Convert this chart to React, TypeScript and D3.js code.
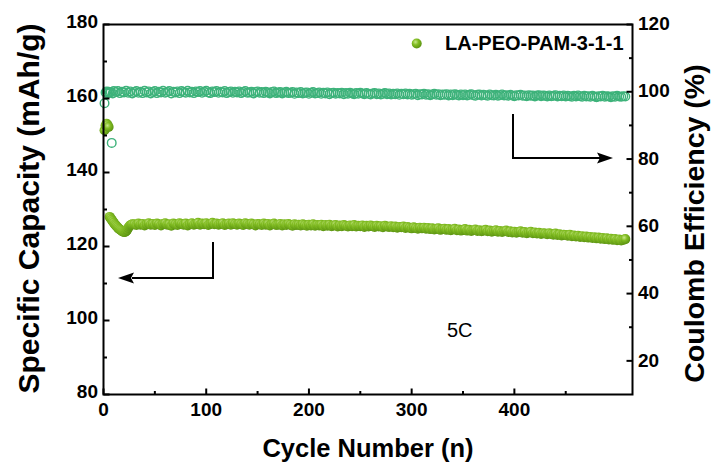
import React from "react";
import * as d3 from "d3";

// ---------- data ----------
const capCyclesEarly = [1, 2, 3, 4, 5, 6, 7, 8, 9, 10, 11, 12, 13, 14, 15, 16, 17, 18, 19, 20, 21, 22, 23, 24, 25, 26, 27, 28];
const capEarly = [151.4, 152.7, 153.2, 152.8, 152.3, 128.0, 127.6, 127.2, 126.8, 126.4, 126.0, 125.7, 125.4, 125.1, 124.8, 124.6, 124.4, 124.2, 124.0, 123.9, 123.9, 124.1, 124.5, 125.0, 125.4, 125.7, 125.9, 126.0];
const capCycleStart = 30; // then every 2 cycles
const capMain = [
  126.0, 125.8, 126.2, 125.9, 126.1, 125.7, 126.0, 126.3, 125.9, 126.1,
  125.8, 126.2, 126.0, 125.7, 126.1, 126.3, 125.9, 126.0, 125.6, 126.2,
  126.0, 125.8, 126.3, 126.1, 125.9, 126.2, 125.7, 126.0, 126.3, 125.9,
  126.1, 126.4, 125.9, 126.2, 126.0, 126.3, 125.8, 126.1, 126.4, 126.0,
  126.2, 125.9, 126.1, 126.3, 125.8, 126.0, 126.2, 125.9, 126.3, 126.1,
  125.9, 126.2, 126.0, 125.8, 126.3, 126.1, 125.9, 126.2, 126.0, 125.7,
  126.1, 126.0, 125.8, 126.2, 125.9, 126.1, 125.7, 126.0, 126.2, 125.8,
  125.9, 126.1, 125.7, 126.0, 125.8, 126.1, 125.9, 125.6, 126.0, 125.8,
  125.9, 125.7, 126.0, 125.8, 125.6, 125.9, 125.7, 126.0, 125.6, 125.8,
  125.7, 125.9, 125.5, 125.8, 125.6, 125.9, 125.5, 125.7, 125.8, 125.4,
  125.7, 125.5, 125.8, 125.6, 125.4, 125.7, 125.5, 125.8, 125.4, 125.6,
  125.5, 125.7, 125.3, 125.6, 125.4, 125.7, 125.5, 125.3, 125.6, 125.4,
  125.5, 125.2, 125.6, 125.4, 125.3, 125.5, 125.2, 125.4, 125.1, 125.3,
  125.2, 125.4, 125.0, 125.3, 125.1, 124.9, 125.2, 125.0, 124.8, 125.1,
  124.9, 125.1, 124.8, 125.0, 124.7, 124.9, 124.6, 124.8, 124.9, 124.5,
  124.7, 124.8, 124.5, 124.7, 124.4, 124.6, 124.8, 124.4, 124.6, 124.3,
  124.5, 124.7, 124.3, 124.5, 124.2, 124.4, 124.6, 124.2, 124.4, 124.1,
  124.3, 124.5, 124.1, 124.3, 124.0, 124.2, 124.4, 124.0, 124.2, 123.9,
  124.1, 124.3, 123.9, 124.1, 123.8, 124.0, 123.7, 123.9, 124.1, 123.7,
  123.9, 123.6, 123.8, 124.0, 123.6, 123.8, 123.5, 123.7, 123.4, 123.6,
  123.5, 123.3, 123.6, 123.4, 123.2, 123.5, 123.1, 123.3, 123.0, 123.2,
  123.1, 122.9, 123.2, 122.8, 123.0, 122.7, 122.9, 122.6, 122.8, 122.5,
  122.7, 122.4, 122.6, 122.3, 122.5, 122.2, 122.4, 122.1, 122.3, 122.0,
  122.2, 121.9, 122.1, 121.8, 122.0, 121.7, 121.9, 121.6, 121.8, 122.0,
];

const ceCyclesEarly = [1, 2, 3, 4, 5, 6, 7, 8, 9, 10];
const ceEarly = [96.6, 99.8, 100.1, 99.6, 100.0, 99.7, 99.9, 84.8, 99.5, 100.2];
const ceCycleStart = 12; // then every 2 cycles
const ceMain = [
  99.9, 100.2, 99.6, 100.0, 99.8, 100.3, 99.7, 100.1, 99.5, 99.9,
  100.2, 99.7, 100.0, 99.6, 100.3, 99.8, 100.1, 99.5, 99.9, 100.2,
  99.6, 100.0, 99.8, 100.3, 99.7, 99.9, 100.2, 99.5, 100.0, 99.8,
  100.1, 99.6, 100.2, 99.9, 99.7, 100.3, 99.8, 100.0, 99.6, 100.1,
  99.9, 100.2, 99.7, 100.0, 100.3, 99.8, 99.6, 100.1, 99.9, 100.2,
  99.7, 100.0, 99.8, 100.2, 99.6, 99.9, 100.1, 99.7, 100.0, 99.8,
  100.1, 99.6, 99.9, 100.2, 99.7, 99.8, 100.0, 99.5, 99.9, 100.1,
  99.7, 99.9, 99.6, 100.0, 99.8, 99.5, 99.9, 100.1, 99.6, 99.8,
  99.9, 99.5, 99.8, 100.0, 99.6, 99.7, 99.9, 99.4, 99.8, 99.6,
  99.9, 99.5, 99.7, 99.8, 99.4, 99.7, 99.9, 99.5, 99.6, 99.8,
  99.4, 99.7, 99.5, 99.8, 99.3, 99.6, 99.7, 99.4, 99.6, 99.5,
  99.7, 99.3, 99.6, 99.4, 99.7, 99.5, 99.3, 99.6, 99.4, 99.7,
  99.5, 99.3, 99.6, 99.4, 99.2, 99.5, 99.6, 99.3, 99.5, 99.2,
  99.4, 99.6, 99.3, 99.5, 99.2, 99.4, 99.3, 99.5, 99.1, 99.4,
  99.3, 99.5, 99.2, 99.4, 99.1, 99.3, 99.4, 99.0, 99.3, 99.2,
  99.4, 99.1, 99.3, 99.0, 99.2, 99.4, 99.1, 99.3, 99.0, 99.2,
  99.1, 99.3, 98.9, 99.2, 99.0, 99.3, 99.1, 98.9, 99.2, 99.0,
  99.2, 98.9, 99.1, 99.3, 99.0, 98.8, 99.1, 99.2, 98.9, 99.1,
  99.0, 98.8, 99.2, 99.0, 98.9, 99.1, 98.8, 99.0, 99.2, 98.9,
  99.0, 98.8, 99.1, 98.9, 98.7, 99.0, 98.9, 99.1, 98.8, 98.9,
  98.7, 99.0, 98.8, 98.9, 98.6, 98.9, 99.0, 98.7, 98.9, 98.8,
  98.6, 98.9, 98.7, 98.8, 99.0, 98.6, 98.8, 98.7, 98.9, 98.6,
  98.8, 98.7, 98.5, 98.8, 98.6, 98.9, 98.7, 98.5, 98.8, 98.6,
  98.7, 98.5, 98.8, 98.6, 98.4, 98.7, 98.6, 98.8, 98.5, 98.7,
  98.6, 98.4, 98.7, 98.5, 98.8, 98.6, 98.5, 98.7, 98.6,
];

const xMajorTicks = [0, 100, 200, 300, 400];
const xMinorTicks = [50, 150, 250, 350, 450];
const yLeftMajor = [80, 100, 120, 140, 160, 180];
const yLeftMinor = [90, 110, 130, 150, 170];
const yRightMajor = [20, 40, 60, 80, 100, 120];
const yRightMinor = [30, 50, 70, 90, 110];
const legendLabel = "LA-PEO-PAM-3-1-1";
const rateLabel = "5C";

// ---------- layout ----------
const W = 715, H = 470;
const L = 103.5, R = 632.5, T = 24.5, B = 394.5;
const FONT = "'Liberation Sans', Arial, Helvetica, sans-serif";
const CE_COLOR = "#3db27a";

export default function App() {
  const x = d3.scaleLinear().domain([0, 515]).range([L, R]);
  const yL = d3.scaleLinear().domain([80, 180]).range([B, T]);
  const yR = d3.scaleLinear().domain([10, 120]).range([B, T]);

  const capData = [
    ...capCyclesEarly.map((c, i) => ({ c, v: capEarly[i] })),
    ...capMain.map((v, i) => ({ c: capCycleStart + i * 2, v })),
  ];
  const ceData = [
    ...ceCyclesEarly.map((c, i) => ({ c, v: ceEarly[i] })),
    ...ceMain.map((v, i) => ({ c: ceCycleStart + i * 2, v })),
  ];

  const majorLen = 6, minorLen = 3.5;

  return (
    <svg
      width={W}
      height={H}
      viewBox={`0 0 ${W} ${H}`}
      style={{ position: "absolute", left: 0, top: 0, background: "#fff" }}
      fontFamily={FONT}
    >
      <defs>
        <radialGradient id="capGrad" cx="38%" cy="35%" r="65%">
          <stop offset="0%" stopColor="#c9e88e" />
          <stop offset="45%" stopColor="#82bd22" />
          <stop offset="100%" stopColor="#5c9412" />
        </radialGradient>
        <clipPath id="plotClip">
          <rect x={L - 6} y={T - 6} width={R - L + 12} height={B - T + 12} />
        </clipPath>
      </defs>
      <rect x={0} y={0} width={W} height={H} fill="#fff" />

      {/* CE series: open circles */}
      <g clipPath="url(#plotClip)">
        {ceData.map((d, i) => (
          <circle
            key={"ce" + i}
            cx={x(d.c)}
            cy={yR(d.v)}
            r={4.3}
            fill="none"
            stroke={CE_COLOR}
            strokeWidth={1.4}
          />
        ))}
        {/* Capacity series: filled shaded circles */}
        {capData.map((d, i) => (
          <circle
            key={"cap" + i}
            cx={x(d.c)}
            cy={yL(d.v)}
            r={5}
            fill="url(#capGrad)"
          />
        ))}
      </g>

      {/* frame */}
      <rect x={L} y={T} width={R - L} height={B - T} fill="none" stroke="#000" strokeWidth={2} />

      {/* bottom ticks */}
      {xMajorTicks.map((t) => (
        <g key={"xm" + t}>
          <line x1={x(t)} x2={x(t)} y1={B} y2={B - majorLen} stroke="#000" strokeWidth={2} />
          <text x={x(t)} y={416} textAnchor="middle" fontSize={19} fontWeight="bold">{t}</text>
        </g>
      ))}
      {xMinorTicks.map((t) => (
        <line key={"xn" + t} x1={x(t)} x2={x(t)} y1={B} y2={B - minorLen} stroke="#000" strokeWidth={2} />
      ))}

      {/* left ticks */}
      {yLeftMajor.map((t) => (
        <g key={"ylm" + t}>
          <line x1={L} x2={L + majorLen} y1={yL(t)} y2={yL(t)} stroke="#000" strokeWidth={2} />
          <text x={98} y={yL(t) - 3} dy="0.35em" textAnchor="end" fontSize={19} fontWeight="bold">{t}</text>
        </g>
      ))}
      {yLeftMinor.map((t) => (
        <line key={"yln" + t} x1={L} x2={L + minorLen} y1={yL(t)} y2={yL(t)} stroke="#000" strokeWidth={2} />
      ))}

      {/* right ticks */}
      {yRightMajor.map((t) => (
        <g key={"yrm" + t}>
          <line x1={R} x2={R - majorLen} y1={yR(t)} y2={yR(t)} stroke="#000" strokeWidth={2} />
          <text x={638} y={yR(t) - 1} dy="0.35em" textAnchor="start" fontSize={19} fontWeight="bold">{t}</text>
        </g>
      ))}
      {yRightMinor.map((t) => (
        <line key={"yrn" + t} x1={R} x2={R - minorLen} y1={yR(t)} y2={yR(t)} stroke="#000" strokeWidth={2} />
      ))}

      {/* axis titles */}
      <text x={368} y={457} textAnchor="middle" fontSize={25.5} fontWeight="bold">Cycle Number (n)</text>
      <text
        transform={`translate(39, ${(T + B) / 2 - 1}) rotate(-90)`}
        textAnchor="middle"
        fontSize={30}
        fontWeight="bold"
      >
        Specific Capacity (mAh/g)
      </text>
      <text
        transform={`translate(704, ${(T + B) / 2 + 14}) rotate(-90)`}
        textAnchor="middle"
        fontSize={28.5}
        fontWeight="bold"
      >
        Coulomb Efficiency (%)
      </text>

      {/* legend */}
      <circle cx={416.7} cy={43.5} r={5} fill="url(#capGrad)" />
      <text x={445} y={50} fontSize={20} fontWeight="bold">{legendLabel}</text>

      {/* arrows */}
      <polyline points={`513,114 513,158 600,158`} fill="none" stroke="#000" strokeWidth={2} />
      <path d="M613,158 L597,152.5 L600,158 L597,163.5 Z" fill="#000" />
      <polyline points={`213,242 213,278 132,278`} fill="none" stroke="#000" strokeWidth={2} />
      <path d="M118,278 L134,272.5 L131,278 L134,283.5 Z" fill="#000" />

      {/* rate label */}
      <text x={447} y={337} fontSize={20}>{rateLabel}</text>
    </svg>
  );
}
